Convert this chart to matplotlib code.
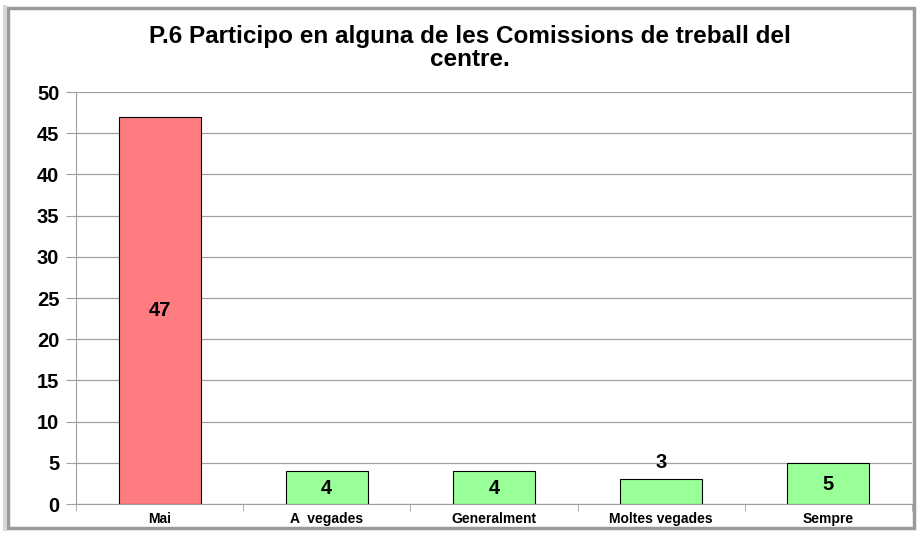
import matplotlib
matplotlib.use("Agg")
import matplotlib.pyplot as plt
from matplotlib.patches import Rectangle

categories = ["Mai", "A  vegades", "Generalment", "Moltes vegades", "Sempre"]
values = [47, 4, 4, 3, 5]
colors = ["#FF7C80", "#99FF99", "#99FF99", "#99FF99", "#99FF99"]
title = "P.6 Participo en alguna de les Comissions de treball del\ncentre."

plt.rcParams['font.family'] = ['Liberation Sans', 'DejaVu Sans']

W, H = 919, 534
fig = plt.figure(figsize=(W/100, H/100), dpi=100)
fig.patch.set_facecolor("white")

# frame
fig.add_artist(Rectangle((8/W, 6/H), 906/W, 520/H, transform=fig.transFigure,
                         fill=False, edgecolor="#9a9a9a", linewidth=2.5))
fig.add_artist(Rectangle((3/W, 3/H), 4/W, 526/H, transform=fig.transFigure,
                         fill=True, facecolor="#d8d8d8", edgecolor="none"))

ax = fig.add_axes([76/W, 1-504/H, (912-76)/W, (504-92)/H])
x = list(range(len(categories)))
bars = ax.bar(x, values, width=0.49, color=colors, edgecolor="black", linewidth=0.8, zorder=3)
ax.set_xlim(-0.5, len(categories)-0.5)
ax.set_ylim(0, 50)
ax.set_yticks(range(0, 51, 5))
ax.yaxis.grid(True, color="#a0a0a0", linewidth=0.9, zorder=0)
for s in ["top", "right"]:
    ax.spines[s].set_visible(False)
for s in ["left", "bottom"]:
    ax.spines[s].set_color("#a0a0a0")
ax.set_xticks(x)
ax.set_xticklabels(categories, fontsize=10, fontweight="bold")
ax.tick_params(axis="x", length=0, pad=6)
ax.set_xticks([i + 0.5 for i in range(-1, len(categories))], minor=True)
ax.tick_params(axis="x", which="minor", length=5, color="#a0a0a0")
ax.tick_params(axis="y", length=7, color="#a0a0a0", pad=5, labelsize=14.5)
for lab in ax.get_yticklabels():
    lab.set_fontweight("bold")

for xi, v in zip(x, values):
    if v >= 4:
        y = v / 2 if v > 10 else v / 2 - 0.1
        ax.text(xi, y, str(v), ha="center", va="center", fontsize=14.5, fontweight="bold", zorder=4)
    else:
        ax.text(xi, v + 2.0, str(v), ha="center", va="center", fontsize=14.5, fontweight="bold", zorder=4)

fig.text(470/W, 1-48/H, title, ha="center", va="center", fontsize=17.5,
         fontweight="bold", linespacing=1.05)

fig.savefig("out.png", dpi=100)
